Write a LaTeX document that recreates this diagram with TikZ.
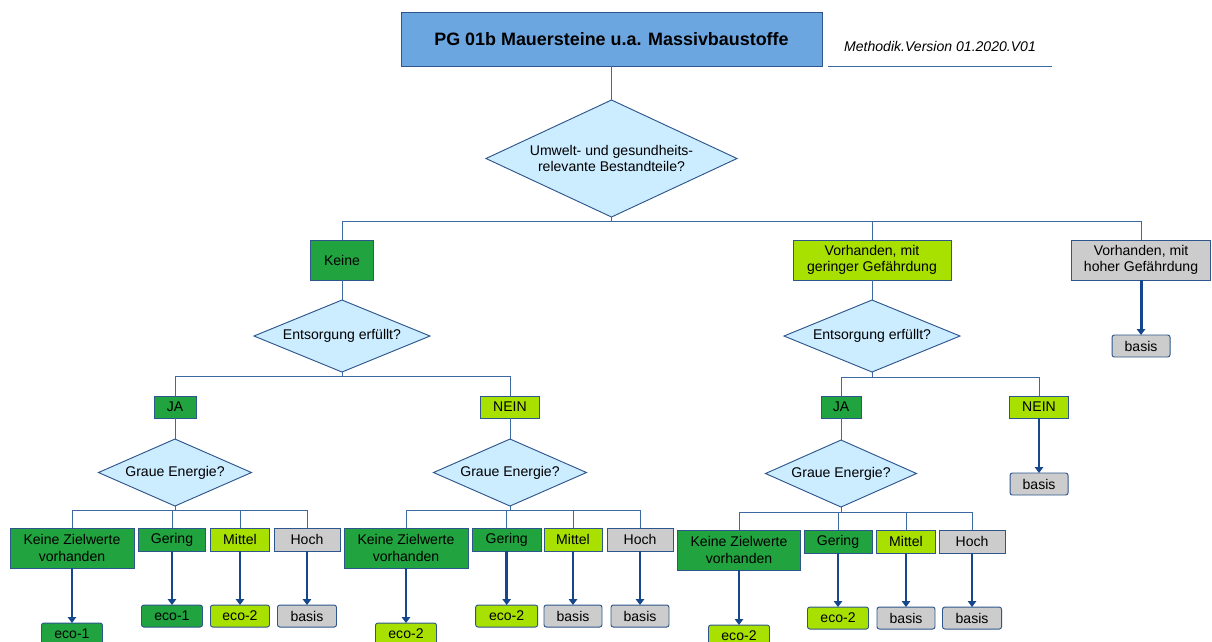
\documentclass[tikz,border=0pt]{standalone}
\usepackage{fontspec}
\setmainfont{Liberation Sans}
\usepackage{tikz}
\usetikzlibrary{shapes.geometric,arrows.meta,positioning}

\definecolor{titelblau}{RGB}{108,166,224}
\definecolor{rahmenblau}{RGB}{46,86,140}
\definecolor{frageblau}{RGB}{204,236,255}
\definecolor{dunkelgruen}{RGB}{33,163,63}
\definecolor{hellgruen}{RGB}{168,224,0}
\definecolor{grauton}{RGB}{204,204,204}
\definecolor{linienblau}{RGB}{62,106,164}
\definecolor{pfeilblau}{RGB}{22,70,140}

\tikzset{
  box/.style={draw=rahmenblau, line width=0.8pt, outer sep=0pt, minimum height=0.69cm, inner sep=1pt, align=center, font=\fontsize{12}{13.9}\selectfont},
  dunkel/.style={box, fill=dunkelgruen},
  hell/.style={box, fill=hellgruen},
  grau/.style={box, fill=grauton},
  ergebnis/.style={rounded corners=2pt, minimum height=0.66cm},
  frage/.style={draw=rahmenblau, line width=0.8pt, outer sep=0pt, shape=diamond, fill=frageblau, inner sep=0pt, align=center, font=\fontsize{12}{13.9}\selectfont},
  linie/.style={draw=linienblau, line width=0.8pt},
  pfeil/.style={draw=pfeilblau, line width=2.5pt, -{Triangle[length=5pt,width=7pt]}}
}

\begin{document}
\begin{tikzpicture}[x=0.03cm, y=-0.03cm]
    \clip (0,0) rectangle (1212,641);
    % Kopf
    \node (titel) [draw=rahmenblau, line width=0.8pt, outer sep=0pt, fill=titelblau, minimum width=12.63cm, minimum height=1.62cm, font=\fontsize{15.3}{18}\bfseries] at (611.5,39) {PG 01b Mauersteine u.a. Massivbaustoffe};
    \node (methodik) [anchor=south west, xshift=0.18cm, minimum width=6.72cm, minimum height=1.2cm, inner sep=0pt, outer sep=0pt, font=\fontsize{12}{14}\itshape] at (titel.south east) {Methodik.Version 01.2020.V01};
    \node (q1) [frage, aspect=2.145, below=1.02cm of titel, minimum width=7.53cm, minimum height=3.51cm] {Umwelt- und gesundheits-\\relevante Bestandteile?};

    % erste Ebene
    \node (keine) [dunkel, below=0.69cm of q1, xshift=-8.085cm, minimum width=1.89cm, minimum height=1.2cm] {Keine};
    \node (gering) [hell, below=0.69cm of q1, xshift=7.815cm, minimum width=4.74cm, minimum height=1.2cm] {Vorhanden, mit\\geringer Gefährdung};
    \node (hoch) [grau, below=0.69cm of q1, xshift=15.885cm, minimum width=4.17cm, minimum height=1.2cm] {Vorhanden, mit\\hoher Gefährdung};
    \node (basis0) [grau, ergebnis, below=1.65cm of hoch, minimum width=1.74cm] {basis};

    % zweite Ebene
    \node (q2) [frage, aspect=2.44, below=0.6cm of keine, minimum width=5.28cm, minimum height=2.16cm] {Entsorgung erfüllt?};
    \node (q5) [frage, aspect=2.44, below=0.6cm of gering, minimum width=5.28cm, minimum height=2.16cm] {Entsorgung erfüllt?};
    \node (ja1) [dunkel, below=0.72cm of q2, xshift=-5.01cm, minimum width=1.26cm, minimum height=0.66cm] {JA};
    \node (nein1) [hell, below=0.72cm of q2, xshift=5.04cm, minimum width=1.77cm, minimum height=0.66cm] {NEIN};
    \node (ja2) [dunkel, below=0.72cm of q5, xshift=-0.93cm, minimum width=1.2cm, minimum height=0.66cm] {JA};
    \node (nein2) [hell, below=0.72cm of q5, xshift=5.01cm, minimum width=1.77cm, minimum height=0.66cm] {NEIN};
    \node (basis4) [grau, ergebnis, below=1.65cm of nein2, minimum width=1.74cm] {basis};

    % dritte Ebene
    \node (q3) [frage, aspect=2.28, below=0.63cm of ja1, minimum width=4.59cm, minimum height=2.01cm] {Graue Energie?};
    \node (q4) [frage, aspect=2.28, below=0.63cm of nein1, minimum width=4.59cm, minimum height=2.01cm] {Graue Energie?};
    \node (q6) [frage, aspect=2.25, below=0.66cm of ja2, minimum width=4.53cm, minimum height=2.01cm] {Graue Energie?};

    % vierte Ebene, links
    \node (kz1) [dunkel, below=0.66cm of q3, xshift=-3.09cm, minimum width=3.72cm, minimum height=1.2cm] {Keine Zielwerte\\vorhanden};
    \node (ge1) [dunkel, below=0.66cm of q3, xshift=-0.09cm, minimum width=2.01cm] {Gering};
    \node (mi1) [hell, below=0.66cm of q3, xshift=1.95cm, minimum width=1.77cm] {Mittel};
    \node (ho1) [grau, below=0.66cm of q3, xshift=3.96cm, minimum width=1.98cm] {Hoch};
    \node (e1) [dunkel, ergebnis, below=1.65cm of kz1, minimum width=1.83cm] {eco-1};
    \node (e2) [dunkel, ergebnis, below=1.62cm of ge1, minimum width=1.83cm] {eco-1};
    \node (e3) [hell, ergebnis, below=1.62cm of mi1, minimum width=1.77cm] {eco-2};
    \node (e4) [grau, ergebnis, below=1.62cm of ho1, minimum width=1.77cm] {basis};

    % vierte Ebene, Mitte
    \node (kz2) [dunkel, below=0.66cm of q4, xshift=-3.12cm, minimum width=3.72cm, minimum height=1.2cm] {Keine Zielwerte\\vorhanden};
    \node (ge2) [dunkel, below=0.66cm of q4, xshift=-0.1cm, minimum width=2.07cm] {Gering};
    \node (mi2) [hell, below=0.66cm of q4, xshift=1.89cm, minimum width=1.74cm] {Mittel};
    \node (ho2) [grau, below=0.66cm of q4, xshift=3.9cm, minimum width=1.98cm] {Hoch};
    \node (e5) [hell, ergebnis, below=1.65cm of kz2, minimum width=1.83cm] {eco-2};
    \node (e6) [hell, ergebnis, below=1.62cm of ge2, minimum width=1.86cm] {eco-2};
    \node (e7) [grau, ergebnis, below=1.62cm of mi2, minimum width=1.74cm] {basis};
    \node (e8) [grau, ergebnis, below=1.62cm of ho2, minimum width=1.74cm] {basis};

    % vierte Ebene, rechts
    \node (kz3) [dunkel, below=0.69cm of q6, xshift=-3.06cm, minimum width=3.69cm, minimum height=1.2cm] {Keine Zielwerte\\vorhanden};
    \node (ge3) [dunkel, below=0.69cm of q6, xshift=-0.09cm, minimum width=2.04cm] {Gering};
    \node (mi3) [hell, below=0.69cm of q6, xshift=1.95cm, minimum width=1.77cm] {Mittel};
    \node (ho3) [grau, below=0.69cm of q6, xshift=3.93cm, minimum width=1.98cm] {Hoch};
    \node (e9) [hell, ergebnis, below=1.65cm of kz3, minimum width=1.83cm] {eco-2};
    \node (e10) [hell, ergebnis, below=1.62cm of ge3, minimum width=1.83cm] {eco-2};
    \node (e11) [grau, ergebnis, below=1.62cm of mi3, minimum width=1.74cm] {basis};
    \node (e12) [grau, ergebnis, below=1.62cm of ho3, minimum width=1.77cm] {basis};

    % Verbindungen
    \draw[linie] (methodik.south west) -- (methodik.south east);
    \draw[linie] (titel) -- (q1);
    \draw[linie] (q1.south) -- ++(0,4) -| (keine.north);
    \draw[linie] (q1.south) -- ++(0,4) -| (gering.north);
    \draw[linie] (q1.south) -- ++(0,4) -| (hoch.north);
    \draw[pfeil] (hoch) -- (basis0);

    \draw[linie] (keine) -- (q2);
    \draw[linie] (q2.south) -- ++(0,4) -| (ja1.north);
    \draw[linie] (q2.south) -- ++(0,4) -| (nein1.north);
    \draw[linie] (gering) -- (q5);
    \draw[linie] (q5.south) -- ++(0,5) -| (ja2.north);
    \draw[linie] (q5.south) -- ++(0,5) -| (nein2.north);
    \draw[pfeil] (nein2) -- (basis4);

    \draw[linie] (ja1) -- (q3);
    \draw[linie] (nein1) -- (q4);
    \draw[linie] (ja2) -- (q6);

    \draw[linie] (q3.south) -- ++(0,4) -| (kz1.north);
    \draw[linie] (q3.south) -- ++(0,4) -| (ge1.north);
    \draw[linie] (q3.south) -- ++(0,4) -| (mi1.north);
    \draw[linie] (q3.south) -- ++(0,4) -| (ho1.north);
    \draw[pfeil] (kz1) -- (e1);
    \draw[pfeil] (ge1) -- (e2);
    \draw[pfeil] (mi1) -- (e3);
    \draw[pfeil] (ho1) -- (e4);

    \draw[linie] (q4.south) -- ++(0,4) -| (kz2.north);
    \draw[linie] (q4.south) -- ++(0,4) -| (ge2.north);
    \draw[linie] (q4.south) -- ++(0,4) -| (mi2.north);
    \draw[linie] (q4.south) -- ++(0,4) -| (ho2.north);
    \draw[pfeil] (kz2) -- (e5);
    \draw[pfeil] (ge2) -- (e6);
    \draw[pfeil] (mi2) -- (e7);
    \draw[pfeil] (ho2) -- (e8);

    \draw[linie] (q6.south) -- ++(0,5) -| (kz3.north);
    \draw[linie] (q6.south) -- ++(0,5) -| (ge3.north);
    \draw[linie] (q6.south) -- ++(0,5) -| (mi3.north);
    \draw[linie] (q6.south) -- ++(0,5) -| (ho3.north);
    \draw[pfeil] (kz3) -- (e9);
    \draw[pfeil] (ge3) -- (e10);
    \draw[pfeil] (mi3) -- (e11);
    \draw[pfeil] (ho3) -- (e12);
\end{tikzpicture}
\end{document}
